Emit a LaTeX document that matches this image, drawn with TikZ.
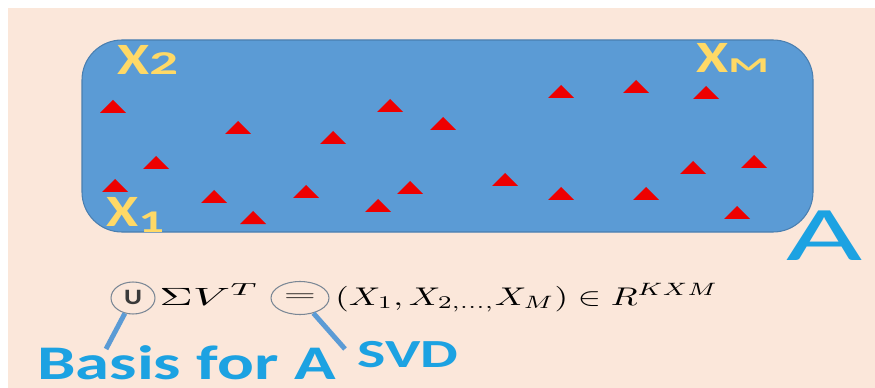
\documentclass[tikz,border=0pt]{standalone}
\usepackage{fontspec}
\setmainfont{Carlito}
\usetikzlibrary{shapes.geometric}
\definecolor{peach}{HTML}{FBE7DA}
\definecolor{boxblue}{HTML}{5B9BD5}
\definecolor{boxedge}{HTML}{4A7FB0}
\definecolor{trired}{HTML}{EE0000}
\definecolor{xyellow}{HTML}{FFD966}
\definecolor{labcyan}{HTML}{1CA2E2}
\definecolor{ringgray}{HTML}{7A8795}
\definecolor{inkgray}{HTML}{3A3A3A}

\begin{document}
\begin{tikzpicture}[x=0.02cm,y=-0.02cm,
    ylab/.style={anchor=base west,inner sep=0pt,text=xyellow,font=\bfseries\fontsize{25.5}{26}\selectfont},
    cyanlab/.style={anchor=base west,inner sep=0pt,text=labcyan,font=\bfseries\fontsize{27.5}{28}\selectfont},
    ring/.style={ellipse,draw=ringgray,line width=0.6pt,inner sep=0pt},
    callout/.style={draw=boxblue,line width=2.8pt},
    mathpart/.style={anchor=base west,inner sep=0pt,text=black}]
    \useasboundingbox (0,0) rectangle (875,388);
    \fill[white] (0,0) rectangle (875,388);
    \fill[peach] (8,8) rectangle (875,388);

    \draw[fill=boxblue,draw=boxedge,line width=0.6pt,rounded corners=0.8cm] (82,40) rectangle (813,232);
    \foreach \x/\y in {113/107,238/128,333/138,390/106,443/124,156/163,115/186,214/197,306/192,253/218,378/206,410/188,
                       561/92,636/87,706/93,505/180,561/194,646/194,693/168,754/162,737/213}
        \fill[trired] (\x-13,\y+6) -- (\x+13,\y+6) -- (\x,\y-7) -- cycle;

    \draw (117,75) node[ylab] (x2) {\scalebox{1.3}[1]{X}\scalebox{1.7}[1]{\fontsize{19}{19}\selectfont 2}};
    \draw (106,227) node[ylab] (x1) {\scalebox{1.3}[1]{X}\raisebox{-3pt}{\scalebox{1.6}[1]{\fontsize{18}{18}\selectfont 1}}};
    \draw (696,73) node[ylab] (xm) {\scalebox{1.3}[1]{X}\scalebox{2.2}[1]{\fontsize{12}{12}\selectfont M}};
    \draw (786,260) node[anchor=base west,inner sep=0pt,text=labcyan,font=\fontsize{44}{44}\selectfont] (Alab) {\scalebox{1.7}[1]{A}};

    \draw (133,304) node[anchor=base,inner sep=0pt,text=inkgray,font=\bfseries\fontsize{12.5}{13}\selectfont] (U) {\scalebox{1.25}[1]{U}};
    \draw (159,305) node[mathpart] (sv) {\resizebox{2.0cm}{0.42cm}{$\Sigma V^{T}$}};
    \draw (300,298) node[inner sep=0pt,font=\fontsize{12}{12}\selectfont] (eq) {\scalebox{2}[1]{$=$}};
    \draw (335,305) node[mathpart] (rest) {\resizebox{7.66cm}{0.43cm}{$(X_1,X_{2,\ldots,}X_M)\in R^{KXM}$}};
    \draw (133,298) node[ring,minimum width=0.88cm,minimum height=0.64cm] (Uc) {};
    \draw (300,298) node[ring,minimum width=1.16cm,minimum height=0.66cm] (eqc) {};

    \draw (37,379) node[cyanlab] (basis) {\scalebox{1.42}[1]{Basis for A}};
    \draw (357,367) node[cyanlab,font=\bfseries\fontsize{22.7}{23}\selectfont] (svd) {\scalebox{1.5}[1]{SVD}};
    \coordinate (basistip) at (106,349);
    \coordinate (svdtip) at (345,349);
    \draw[callout] (Uc) -- (basistip);
    \draw[callout] (eqc) -- (svdtip);
\end{tikzpicture}
\end{document}
